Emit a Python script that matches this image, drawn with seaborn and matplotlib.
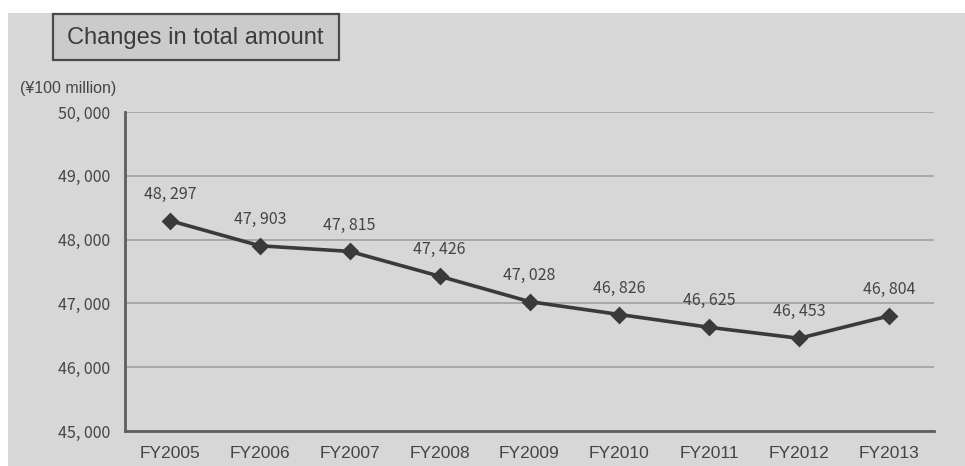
import numpy as np
import pandas as pd
import matplotlib
matplotlib.use("Agg")
import matplotlib.pyplot as plt
from matplotlib.patches import Rectangle
import seaborn as sns

# Total amount by fiscal year (unit: 100 million yen)
years = ["FY2005", "FY2006", "FY2007", "FY2008", "FY2009",
         "FY2010", "FY2011", "FY2012", "FY2013"]
totals = [48297, 47903, 47815, 47426, 47028, 46826, 46625, 46453, 46804]
y_ticks = [45000, 46000, 47000, 48000, 49000, 50000]

BG = "#d7d7d7"
INK = "#3a3a3a"
TEXT = "#444444"
GRID = "#9c9c9c"

sns.set_theme(style="white")
plt.rcParams["font.family"] = ["Noto Sans CJK JP", "DejaVu Sans"]


def fmt(v):
    return f"{v:,}".replace(",", ", ")


df = pd.DataFrame({"year": years, "total": totals})

W, H = 965, 466
fig = plt.figure(figsize=(W / 100, H / 100), dpi=100, facecolor=BG)

# white strips along the top and left edges of the sheet
fig.patches.append(Rectangle((0, 1 - 13 / H), 1, 13 / H, transform=fig.transFigure,
                             facecolor="white", edgecolor="none", zorder=0))
fig.patches.append(Rectangle((0, 0), 8 / W, 1, transform=fig.transFigure,
                             facecolor="white", edgecolor="none", zorder=0))

left, right, top, bottom = 125, 934, 112, 431
ax = fig.add_axes([left / W, 1 - bottom / H, (right - left) / W, (bottom - top) / H])
ax.set_facecolor("none")

sns.pointplot(data=df, x="year", y="total", ax=ax, color=INK,
              markers="D", markersize=7, linewidth=2.6, errorbar=None)

ax.set_ylim(45000, 50000)
ax.set_xlim(-0.5, len(years) - 0.5)
ax.set_yticks(y_ticks)
ax.set_yticklabels([fmt(v) for v in y_ticks], fontsize=11.5, color=TEXT)
ax.set_xticks(range(len(years)))
ax.set_xticklabels(years, fontsize=12.5, color=TEXT, family="Liberation Sans")
ax.set_xticks(np.arange(-0.5, len(years), 1.0), minor=True)
ax.tick_params(axis="x", which="major", length=0, pad=11)
ax.tick_params(axis="x", which="minor", direction="in", length=3, width=1, color="#707070")
ax.tick_params(axis="y", length=0, pad=10.5)
ax.set_xlabel("")
ax.set_ylabel("")

ax.grid(axis="y", color=GRID, linewidth=1.1)
ax.set_axisbelow(True)
for side in ["top", "right"]:
    ax.spines[side].set_visible(False)
for side in ["left", "bottom"]:
    ax.spines[side].set_color("#5e5e5e")
    ax.spines[side].set_linewidth(2)

for i, v in enumerate(totals):
    ax.annotate(fmt(v), (i, v), xytext=(0, 19), textcoords="offset points",
                ha="center", va="center", fontsize=11.5, color=TEXT)

# unit label
fig.text(20 / W, 1 - 88 / H, "(¥100 million)", fontsize=11.5, color=TEXT,
         family="Liberation Sans", ha="left", va="center")

# boxed chart title
fig.patches.append(Rectangle((53 / W, 1 - 60 / H), (339 - 53) / W, (60 - 14) / H,
                             transform=fig.transFigure, facecolor="#cbcbcb",
                             edgecolor="#4a4a4a", linewidth=1.6, zorder=1))
fig.text(195 / W, 1 - 38 / H, "Changes in total amount", fontsize=17, color="#3c3c3c",
         family="Liberation Sans", ha="center", va="center", zorder=2)

fig.savefig("out.png", dpi=100, facecolor=BG)
